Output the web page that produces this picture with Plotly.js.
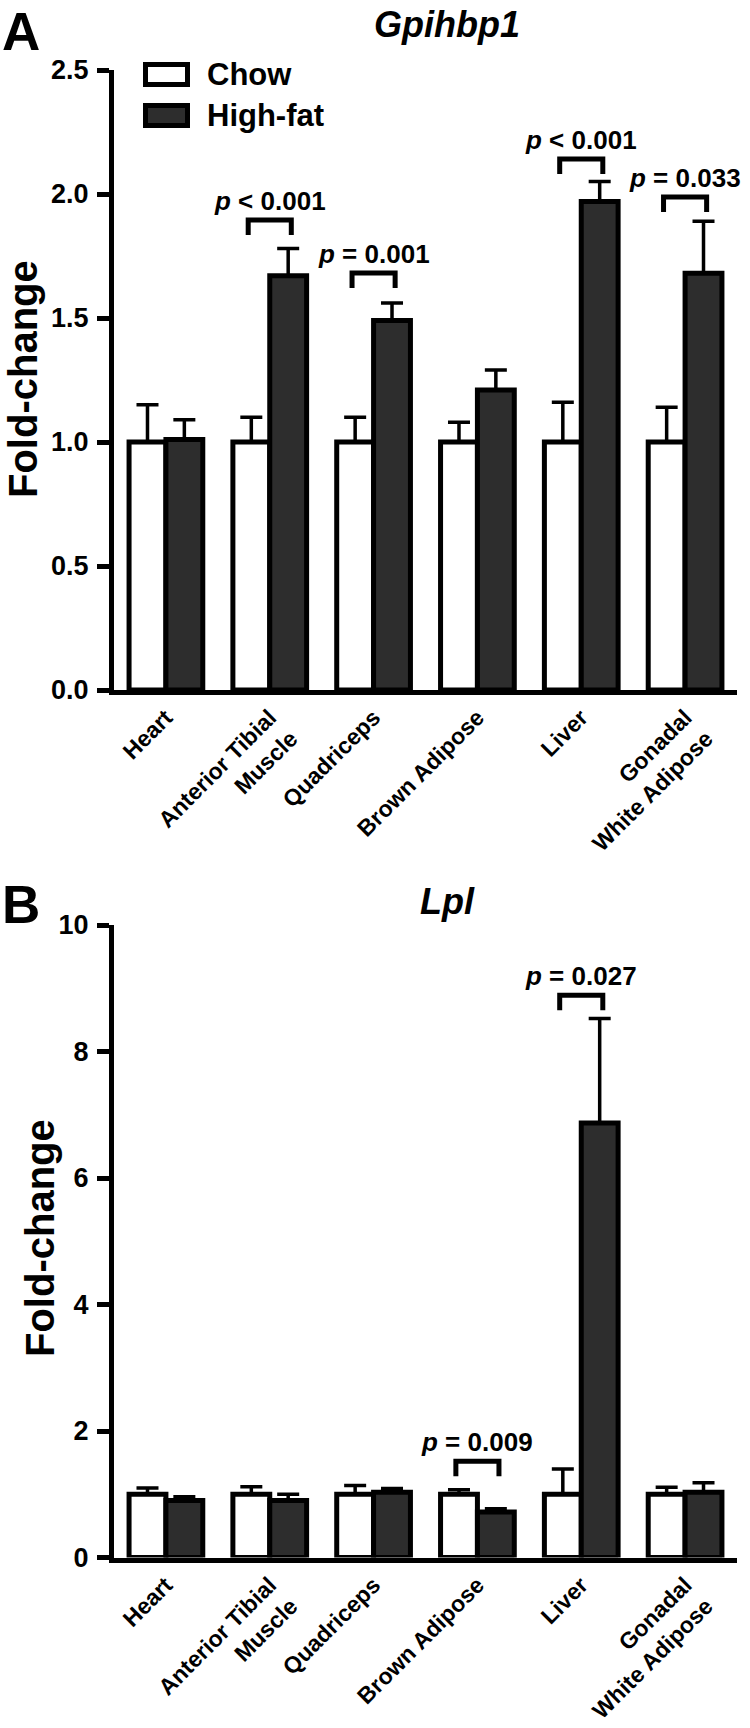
<!DOCTYPE html>
<html>
<head>
<meta charset="utf-8">
<script src="https://cdn.plot.ly/plotly-3.0.1.min.js"></script>
<style>html,body{margin:0;padding:0;background:#fff}#chart{width:750px;height:1728px}</style>
</head>
<body>
<div id="chart"></div>
<script>
// ---- data ----
const categories = ['Heart', 'Anterior Tibial<br>Muscle', 'Quadriceps', 'Brown Adipose', 'Liver', 'Gonadal<br>White Adipose'];
const seriesNames = ['Chow', 'High-fat'];

const gpiChow    = [1.00, 1.00, 1.00, 1.00, 1.00, 1.00];
const gpiChowErr = [0.15, 0.10, 0.10, 0.08, 0.16, 0.14];
const gpiHF      = [1.01, 1.67, 1.49, 1.21, 1.97, 1.68];
const gpiHFErr   = [0.08, 0.11, 0.07, 0.08, 0.08, 0.21];

const lplChow    = [1.00, 1.00, 1.00, 1.00, 1.00, 1.00];
const lplChowErr = [0.10, 0.12, 0.14, 0.07, 0.40, 0.11];
const lplHF      = [0.90, 0.90, 1.03, 0.72, 6.87, 1.03];
const lplHFErr   = [0.06, 0.10, 0.06, 0.05, 1.65, 0.15];

const gpiSigIdx  = [1, 2, 4, 5];
const gpiSigRel  = ['<', '=', '<', '='];
const gpiSigP    = ['0.001', '0.001', '0.001', '0.033'];
const gpiSigY    = [1.895, 1.681, 2.141, 1.988];

const lplSigIdx  = [3, 4];
const lplSigRel  = ['=', '='];
const lplSigP    = ['0.009', '0.027'];
const lplSigY    = [1.52, 8.89];

const panelTitles = ['Gpihbp1', 'Lpl'];
const panelLetters = ['A', 'B'];
const yTitle = 'Fold-change';

// ---- styling / layout ----
const W = 750, H = 1728;
const FONT = 'Liberation Sans, Arial, Helvetica, sans-serif';
const HF_COLOR = '#2d2d2d';
const BARGAP = 0.29;
const off = (1 - BARGAP) / 4;
const px = v => v / W;
const py = v => 1 - v / H;

const xDom = [px(114), px(737)];
const yDomA = [py(690), py(70)];
const yDomB = [py(1557.5), py(925)];

function barTrace(name, y, err, color, xa, ya) {
  return {
    type: 'bar', name: name, x: categories, y: y, xaxis: xa, yaxis: ya,
    showlegend: false,
    marker: {color: color, line: {color: '#000', width: 5}},
    error_y: {type: 'data', array: err, arrayminus: err.map(() => 0), symmetric: false,
              color: '#000', thickness: 3.5, width: 11},
    hoverinfo: 'skip'
  };
}

const data = [
  barTrace(seriesNames[0], gpiChow, gpiChowErr, '#ffffff', 'x', 'y'),
  barTrace(seriesNames[1], gpiHF, gpiHFErr, HF_COLOR, 'x', 'y'),
  barTrace(seriesNames[0], lplChow, lplChowErr, '#ffffff', 'x2', 'y2'),
  barTrace(seriesNames[1], lplHF, lplHFErr, HF_COLOR, 'x2', 'y2')
];

const shapes = [];
const annotations = [];

function addSig(idxs, rels, ps, ys, xr, yr, range, domPx) {
  const unitPx = domPx / range;
  const drop = 15 / unitPx;
  const bo = off + 0.03;
  idxs.forEach((i, k) => {
    const x1 = i - bo, x2 = i + bo, top = ys[k];
    shapes.push({
      type: 'path', xref: xr, yref: yr,
      path: `M ${x1},${top - drop} L ${x1},${top} L ${x2},${top} L ${x2},${top - drop}`,
      line: {color: '#000', width: 5}
    });
    const rel = rels[k] === '<' ? '&lt;' : '=';
    annotations.push({
      xref: xr, yref: yr, x: i, y: top, xanchor: 'center', yanchor: 'bottom', yshift: 2,
      text: `<b><i>p</i> ${rel} ${ps[k]}</b>`, showarrow: false,
      font: {family: FONT, size: 26, color: '#000'}
    });
  });
}
addSig(gpiSigIdx, gpiSigRel, gpiSigP, gpiSigY, 'x', 'y', 2.5, 620);
addSig(lplSigIdx, lplSigRel, lplSigP, lplSigY, 'x2', 'y2', 10, 632.5);

// panel letters & titles
annotations.push({xref: 'paper', yref: 'paper', x: px(0), y: py(0), xanchor: 'left', yanchor: 'top',
  text: '<b>' + panelLetters[0] + '</b>', showarrow: false, font: {family: FONT, size: 53, color: '#000'}});
annotations.push({xref: 'paper', yref: 'paper', x: px(0), y: py(873), xanchor: 'left', yanchor: 'top',
  text: '<b>' + panelLetters[1] + '</b>', showarrow: false, font: {family: FONT, size: 53, color: '#000'}});
annotations.push({xref: 'paper', yref: 'paper', x: px(447), y: py(25), xanchor: 'center', yanchor: 'middle',
  text: '<b><i>' + panelTitles[0] + '</i></b>', showarrow: false, font: {family: FONT, size: 36, color: '#000'}});
annotations.push({xref: 'paper', yref: 'paper', x: px(447), y: py(901), xanchor: 'center', yanchor: 'middle',
  text: '<b><i>' + panelTitles[1] + '</i></b>', showarrow: false, font: {family: FONT, size: 36, color: '#000'}});
// y titles
annotations.push({xref: 'paper', yref: 'paper', x: px(23), y: py(379), xanchor: 'center', yanchor: 'middle',
  textangle: -90, text: '<b>' + yTitle + '</b>', showarrow: false, font: {family: FONT, size: 40, color: '#000'}});
annotations.push({xref: 'paper', yref: 'paper', x: px(40), y: py(1238), xanchor: 'center', yanchor: 'middle',
  textangle: -90, text: '<b>' + yTitle + '</b>', showarrow: false, font: {family: FONT, size: 40, color: '#000'}});

// legend (drawn as shapes + text)
const legendFill = ['#ffffff', HF_COLOR];
const legendTop = [64.5, 105.5];
seriesNames.forEach((n, k) => {
  shapes.push({type: 'rect', xref: 'paper', yref: 'paper', x0: px(145.5), x1: px(187.5),
    y0: py(legendTop[k]), y1: py(legendTop[k] + 20), fillcolor: legendFill[k], line: {color: '#000', width: 5}});
  annotations.push({xref: 'paper', yref: 'paper', x: px(205), y: py(legendTop[k] + 10), xanchor: 'left', yanchor: 'middle',
    text: '<b>' + n + '</b>', showarrow: false, font: {family: FONT, size: 31, color: '#000'}});
});

const xAxisBase = {
  domain: xDom, range: [-0.5, 5.5], type: 'category', showline: true, linewidth: 5, linecolor: '#000',
  ticks: '', tickangle: -45, showgrid: false, zeroline: false, fixedrange: true,
  tickfont: {family: FONT, size: 23, color: '#000', weight: 'bold'}
};
const yAxisBase = {
  showline: true, linewidth: 5, linecolor: '#000', ticks: 'outside', ticklen: 12, tickwidth: 5, tickcolor: '#000',
  showgrid: false, zeroline: false, fixedrange: true, ticklabelstandoff: 3,
  tickfont: {family: FONT, size: 27, color: '#000', weight: 'bold'}
};

const layout = {
  width: W, height: H, margin: {l: 0, r: 0, t: 0, b: 0},
  paper_bgcolor: '#fff', plot_bgcolor: '#fff',
  barmode: 'group', bargap: BARGAP, bargroupgap: 0,
  showlegend: false,
  xaxis: Object.assign({}, xAxisBase, {anchor: 'y'}),
  xaxis2: Object.assign({}, xAxisBase, {anchor: 'y2'}),
  yaxis: Object.assign({}, yAxisBase, {anchor: 'x', domain: yDomA, range: [0, 2.5], dtick: 0.5, tickformat: '.1f'}),
  yaxis2: Object.assign({}, yAxisBase, {anchor: 'x2', domain: yDomB, range: [0, 10], dtick: 2}),
  shapes: shapes, annotations: annotations
};

Plotly.newPlot('chart', data, layout, {staticPlot: true, displayModeBar: false});
</script>
</body>
</html>
